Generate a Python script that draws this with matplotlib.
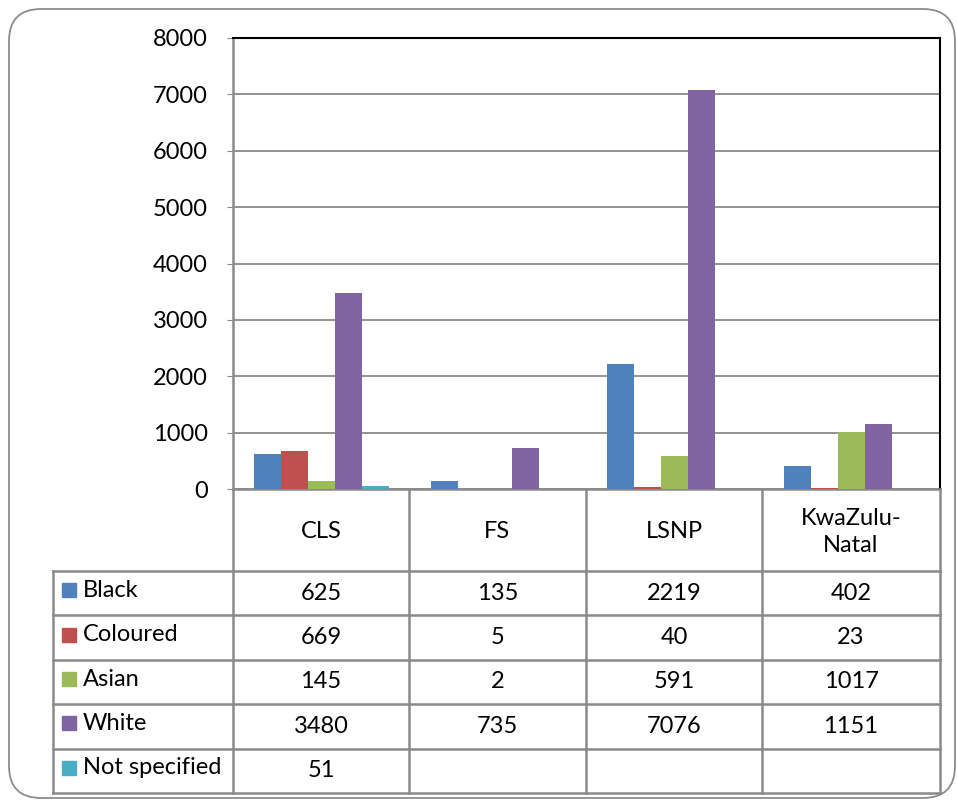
import numpy as np
import matplotlib.pyplot as plt
from matplotlib.patches import FancyBboxPatch, Rectangle

plt.rcParams['font.family'] = ['Lato', 'DejaVu Sans']

categories = ["CLS", "FS", "LSNP", "KwaZulu-\nNatal"]
series = ["Black", "Coloured", "Asian", "White", "Not specified"]
black = [625, 135, 2219, 402]
coloured = [669, 5, 40, 23]
asian = [145, 2, 591, 1017]
white = [3480, 735, 7076, 1151]
not_specified = [51, None, None, None]
colors = ["#4F81BD", "#C0504D", "#9BBB59", "#8064A2", "#4BACC6"]
values = [black, coloured, asian, white, not_specified]

FS = 17
W, H = 957, 801
fig = plt.figure(figsize=(W / 100, H / 100), dpi=100)

# background layer for the frame and the data table (pixel coords)
bg = fig.add_axes([0, 0, 1, 1])
bg.set_xlim(0, W)
bg.set_ylim(H, 0)
bg.axis("off")
bg.add_patch(FancyBboxPatch((9, 9), W - 11, H - 12,
                            boxstyle="round,pad=0,rounding_size=32",
                            fc="none", ec="#8c8c8c", lw=1.3))

grey = "#8a8a8a"
col_x = [233, 409, 586, 762, 940]
row_y = [571 + i * 44.4 for i in range(6)]
for xv in col_x:
    bg.plot([xv, xv], [489, row_y[-1]], color=grey, lw=1.8)
bg.plot([53, 53], [row_y[0], row_y[-1]], color=grey, lw=1.8)
for yv in row_y:
    bg.plot([53, 940], [yv, yv], color=grey, lw=1.8)

for j, cat in enumerate(categories):
    cx = (col_x[j] + col_x[j + 1]) / 2
    bg.text(cx, 532, cat, ha="center", va="center", fontsize=FS,
            linespacing=1.4)

for i, name in enumerate(series):
    cy = (row_y[i] + row_y[i + 1]) / 2 - 3
    bg.add_patch(Rectangle((62, cy - 7), 14, 14, color=colors[i]))
    bg.text(83, cy, name, ha="left", va="center", fontsize=FS)
    for j in range(4):
        v = values[i][j]
        if v is None:
            continue
        cx = (col_x[j] + col_x[j + 1]) / 2
        bg.text(cx, cy + 3, str(v), ha="center", va="center", fontsize=FS)

# bar chart
ax = fig.add_axes([233 / W, 1 - 489 / H, (940 - 233) / W, (489 - 38) / H])
x = np.arange(len(categories))
bw = 0.153
for i, name in enumerate(series):
    h = [np.nan if v is None else v for v in values[i]]
    ax.bar(x + (i - 2) * bw, h, bw, color=colors[i], zorder=3)

ax.set_xlim(-0.5, 3.5)
ax.set_ylim(0, 8000)
ax.set_yticks(range(0, 8001, 1000))
ax.set_xticks([])
ax.yaxis.grid(True, color=grey, lw=1.3)
ax.set_axisbelow(True)
ax.tick_params(axis="y", labelsize=FS, length=4, color=grey, pad=14)
ax.spines["left"].set_color(grey)
ax.spines["bottom"].set_color(grey)
ax.spines["left"].set_linewidth(1.8)
ax.spines["bottom"].set_linewidth(1.8)
ax.spines["top"].set_color("black")
ax.spines["right"].set_color("black")
ax.spines["top"].set_linewidth(1.5)
ax.spines["right"].set_linewidth(1.5)

fig.savefig("out.png", dpi=100)
